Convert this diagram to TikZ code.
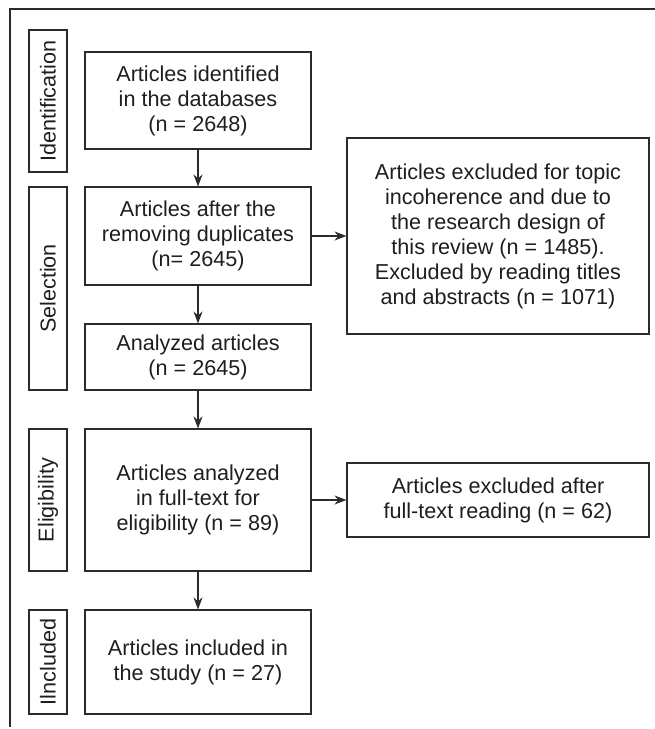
\documentclass[tikz,border=0pt]{standalone}
\usepackage{fontspec}
\setmainfont{Liberation Sans}
\usetikzlibrary{arrows.meta}
\definecolor{linec}{HTML}{2B2B2B}
\definecolor{textc}{HTML}{1E1E1E}
\begin{document}
\begin{tikzpicture}[x=1pt,y=-1pt,
  box/.style={draw=linec,line width=1.1pt,text=textc,align=center,inner sep=0pt,
    font=\fontsize{21.6}{25}\selectfont},
  lab/.style={box,rotate=90},
  arr/.style={draw=linec,line width=1.1pt,-{Stealth[length=12pt,width=9pt]}}]
\useasboundingbox (0,0) rectangle (655,729);
% outer frame (top and left only)
\draw[linec,line width=1.5pt] (10,727) -- (10,9) -- (655,9);
% stage labels
\node[lab,minimum width=142,minimum height=38] (l1) at (48,101) {Identification};
\node[lab,minimum width=203,minimum height=38] (l2) at (48,288.5) {Selection};
\node[lab,minimum width=142,minimum height=38] (l3) at (48,500) {Eligibility};
\node[lab,minimum width=104,minimum height=38] (l4) at (48,662) {Ilncluded};
% main boxes
\node[box,minimum width=226,minimum height=97] (b1) at (198,100.5) {Articles identified\\in the databases\\(n = 2648)};
\node[box,minimum width=226,minimum height=98] (b2) at (198,236) {Articles after the\\removing duplicates\\(n= 2645)};
\node[box,minimum width=226,minimum height=66] (b3) at (198,357) {Analyzed articles\\(n = 2645)};
\node[box,minimum width=226,minimum height=142] (b4) at (198,500) {Articles analyzed\\in full-text for\\eligibility (n = 89)};
\node[box,minimum width=226,minimum height=104] (b5) at (198,662) {Articles included in\\the study (n = 27)};
% side boxes
\node[box,minimum width=302,minimum height=196] (r1) at (498,236) {Articles excluded for topic\\incoherence and due to\\the research design of\\this review (n = 1485).\\Excluded by reading titles\\and abstracts (n = 1071)};
\node[box,minimum width=302,minimum height=74] (r2) at (498,500) {Articles excluded after\\full-text reading (n = 62)};
% connectors
\draw[arr] (b1) -- (b2);
\draw[arr] (b2) -- (b3);
\draw[arr] (b3) -- (b4);
\draw[arr] (b4) -- (b5);
\draw[arr] (b2) -- (r1);
\draw[arr] (b4) -- (r2);
\end{tikzpicture}
\end{document}
